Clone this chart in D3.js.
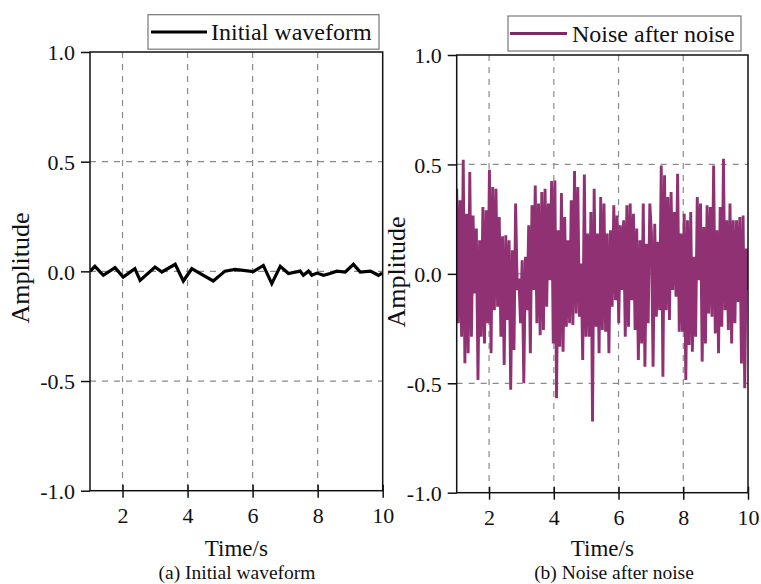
<!DOCTYPE html>
<html>
<head>
<meta charset="utf-8">
<script src="https://cdn.jsdelivr.net/npm/d3@7"></script>
<style>
  body { margin: 0; background: #fff; }
  svg { display: block; }
  svg text { font-family: "Liberation Serif", "Times New Roman", serif !important; fill: #111; }
</style>
</head>
<body>
<svg id="chart" width="761" height="584"></svg>
<script>
// ---------------- data ----------------
const xTicks = [2, 4, 6, 8, 10];
const yTicks = [-1.0, -0.5, 0.0, 0.5, 1.0];
const gridX = [2, 4, 6, 8];
const gridY = [-0.5, 0.0, 0.5];

const initialTime = [1.00, 1.15, 1.41, 1.77, 2.02, 2.38, 2.54, 3.00, 3.21, 3.62, 3.87, 4.13, 4.38, 4.79, 5.15, 5.46, 6.02, 6.33, 6.59, 6.85, 7.10, 7.46, 7.56, 7.72, 7.82, 7.98, 8.18, 8.38, 8.59, 8.85, 9.10, 9.31, 9.62, 9.87, 9.98];
const initialAmp = [0.000, 0.023, -0.018, 0.017, -0.026, 0.012, -0.041, 0.020, -0.003, 0.032, -0.044, 0.012, -0.009, -0.044, 0.001, 0.009, -0.001, 0.027, -0.056, 0.023, -0.010, 0.001, -0.018, 0.001, -0.018, -0.008, -0.018, -0.010, 0.001, -0.003, 0.032, -0.003, 0.001, -0.018, -0.008];

// noisy signal, sampled evenly from t = 1 to t = 10
const noiseStart = 1, noiseEnd = 10;
const noiseAmp = [
  0.389,-0.226,0.336,-0.287,0.521,-0.409,0.275,-0.363,0.465,-0.287,0.267,-0.090,0.207,-0.485,0.153,-0.287,0.305,-0.318,0.290,-0.226,
  0.476,-0.363,0.397,-0.166,0.389,-0.150,0.260,-0.287,0.172,-0.416,0.176,-0.211,0.153,-0.530,0.108,-0.348,0.321,-0.074,-0.021,-0.226,
  0.062,-0.500,0.078,-0.166,0.222,-0.363,0.313,-0.074,0.404,-0.226,0.321,-0.280,0.374,-0.257,0.389,-0.150,0.321,-0.029,0.424,
  -0.318,0.427,-0.568,0.199,-0.333,0.369,-0.356,0.260,-0.242,0.153,-0.226,0.336,-0.234,0.470,-0.181,0.397,-0.196,0.047,-0.394,0.454,
  -0.287,0.184,-0.287,0.283,-0.675,0.389,-0.242,0.184,-0.363,0.351,-0.257,0.321,-0.264,0.184,-0.363,0.199,-0.150,0.313,-0.120,0.267,
  -0.226,0.222,-0.074,0.245,-0.287,0.313,-0.242,0.321,-0.120,0.275,-0.257,0.207,-0.394,0.153,-0.318,0.321,-0.424,0.138,-0.226,0.321,0.184,
  -0.424,0.229,-0.196,0.146,-0.166,0.495,-0.470,0.450,-0.166,0.351,-0.211,0.374,-0.074,0.283,-0.105,0.457,-0.264,0.184,-0.264,0.275,
  -0.485,0.245,-0.325,0.283,-0.356,0.078,-0.287,0.351,-0.029,0.321,-0.401,0.214,-0.318,0.313,-0.181,0.305,-0.196,0.495,-0.272,0.199,
  -0.363,0.305,-0.242,0.526,-0.166,0.245,-0.257,0.321,-0.318,0.245,-0.226,0.245,-0.128,0.260,-0.409,0.267,-0.523,0.116,-0.074
];
const noiseTime = noiseAmp.map((_, i) => noiseStart + (noiseEnd - noiseStart) * i / (noiseAmp.length - 1));

const panels = [
  { x0: 90, x1: 382.7, y0: 52, y1: 490.7, time: initialTime, amp: initialAmp,
    color: "#000", width: 3.2, legendColor: "#000", legend: "Initial waveform",
    lg: { x: 148, y: 14.7, w: 231, h: 34.5, lx0: 151, lx1: 207, tx: 211 },
    yLabelX: 29, yLabelY: 268, caption: "(a) Initial waveform", capX: 237 },
  { x0: 456.7, x1: 748, y0: 55, y1: 492.7, time: noiseTime, amp: noiseAmp,
    color: "#8f3172", width: 2.9, legendColor: "#7d2a62", legend: "Noise after noise",
    lg: { x: 508, y: 16, w: 233, h: 35, lx0: 510, lx1: 567, tx: 572 },
    yLabelX: 405, yLabelY: 272, caption: "(b) Noise after noise", capX: 614 }
];

// ---------------- drawing ----------------
const FONT = "Liberation Serif, Times New Roman, serif";
const svg = d3.select("#chart");
const fmt = d => d.toFixed(1);

panels.forEach(p => {
  const x = d3.scaleLinear().domain([1, 10]).range([p.x0, p.x1]);
  const y = d3.scaleLinear().domain([-1, 1]).range([p.y1, p.y0]);
  const g = svg.append("g");

  // grid
  g.selectAll(".gx").data(gridX).join("line")
    .attr("x1", d => x(d)).attr("x2", d => x(d))
    .attr("y1", p.y0).attr("y2", p.y1)
    .attr("stroke", "#8a8a8a").attr("stroke-width", 1.2).attr("stroke-dasharray", "6,6");
  g.selectAll(".gy").data(gridY).join("line")
    .attr("x1", p.x0).attr("x2", p.x1)
    .attr("y1", d => y(d)).attr("y2", d => y(d))
    .attr("stroke", "#8a8a8a").attr("stroke-width", 1.2).attr("stroke-dasharray", "6,6");

  // data line (clipped to the plot area)
  const clipId = "clip" + Math.round(p.x0);
  svg.append("clipPath").attr("id", clipId).append("rect")
    .attr("x", p.x0).attr("y", p.y0).attr("width", p.x1 - p.x0).attr("height", p.y1 - p.y0);
  const pts = p.time.map((t, i) => [t, p.amp[i]]);
  g.append("path").datum(pts)
    .attr("clip-path", `url(#${clipId})`)
    .attr("fill", "none").attr("stroke", p.color).attr("stroke-width", p.width)
    .attr("stroke-linejoin", "miter")
    .attr("d", d3.line().x(d => x(d[0])).y(d => y(d[1])));

  // frame
  g.append("rect").attr("x", p.x0).attr("y", p.y0)
    .attr("width", p.x1 - p.x0).attr("height", p.y1 - p.y0)
    .attr("fill", "none").attr("stroke", "#111").attr("stroke-width", 1.5);

  // y axis
  const ya = g.append("g").attr("transform", `translate(${p.x0},0)`)
    .call(d3.axisLeft(y).tickValues(yTicks).tickFormat(fmt).tickSize(9).tickSizeOuter(0))
    .attr("font-family", FONT).attr("font-size", 22);
  ya.select(".domain").remove();
  ya.selectAll(".tick line").attr("stroke", "#111").attr("stroke-width", 1.5);
  ya.selectAll(".tick text").attr("x", -15).attr("dy", "0.36em").attr("fill", "#111");

  // x axis
  const xa = g.append("g").attr("transform", `translate(0,${p.y1})`)
    .call(d3.axisBottom(x).tickValues(xTicks).tickFormat(d3.format("d")).tickSizeOuter(0))
    .attr("font-family", FONT).attr("font-size", 22);
  xa.select(".domain").remove();
  xa.selectAll(".tick line").attr("y1", -6).attr("y2", 7).attr("stroke", "#111").attr("stroke-width", 1.5);
  xa.selectAll(".tick text").attr("y", 32).attr("dy", 0).attr("fill", "#111");

  // axis titles
  g.append("text").attr("transform", `translate(${p.yLabelX},${p.yLabelY}) rotate(-90)`)
    .attr("text-anchor", "middle").attr("font-family", FONT).attr("font-size", 26).text("Amplitude");
  g.append("text").attr("x", (p.x0 + p.x1) / 2).attr("y", 556)
    .attr("text-anchor", "middle").attr("font-family", FONT).attr("font-size", 23).text("Time/s");
  g.append("text").attr("x", p.capX).attr("y", 579)
    .attr("text-anchor", "middle").attr("font-family", FONT).attr("font-size", 19.5).text(p.caption);

  // legend
  const lg = p.lg;
  g.append("rect").attr("x", lg.x).attr("y", lg.y).attr("width", lg.w).attr("height", lg.h)
    .attr("fill", "#fff").attr("stroke", "#777").attr("stroke-width", 1.2);
  g.append("line").attr("x1", lg.lx0).attr("x2", lg.lx1)
    .attr("y1", lg.y + lg.h / 2).attr("y2", lg.y + lg.h / 2)
    .attr("stroke", p.legendColor).attr("stroke-width", 3);
  g.append("text").attr("x", lg.tx).attr("y", lg.y + lg.h / 2 + 8)
    .attr("font-family", FONT).attr("font-size", 24).text(p.legend);
});
</script>
</body>
</html>
